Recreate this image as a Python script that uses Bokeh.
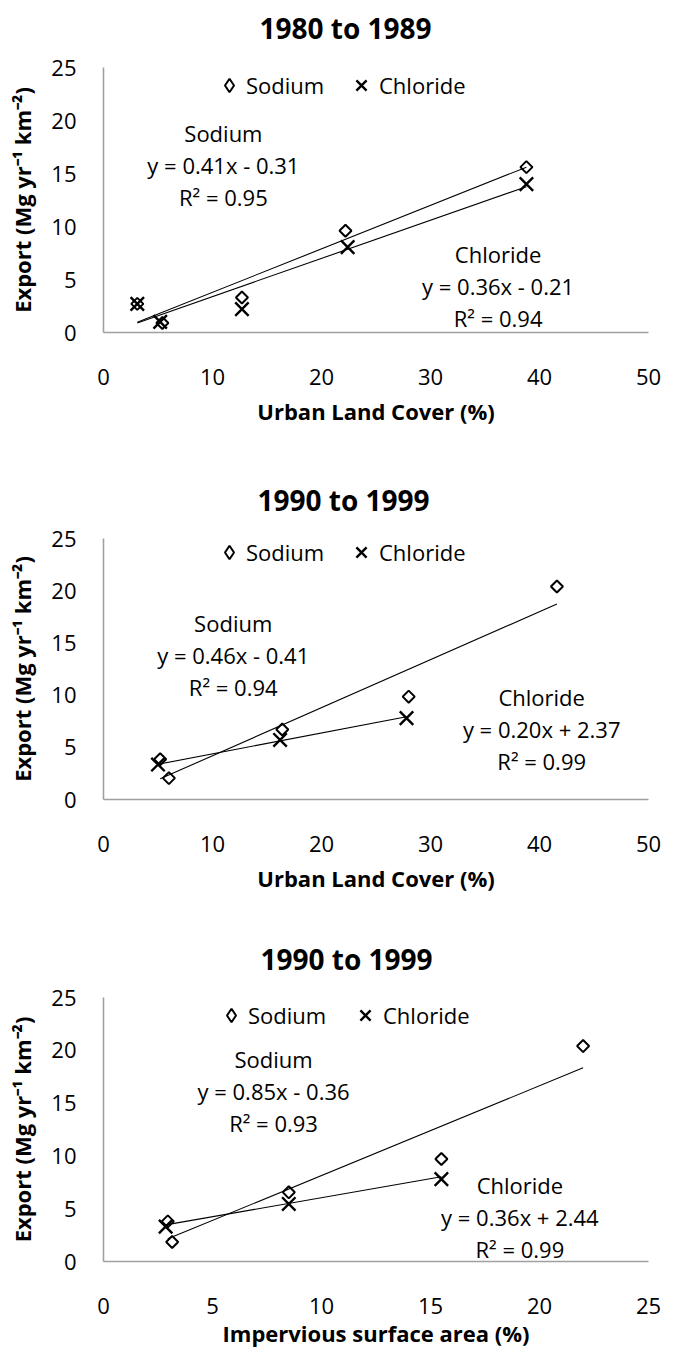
from bokeh.plotting import figure
from bokeh.layouts import column
from bokeh.models import Label, Range1d, FixedTicker, Legend, LegendItem, Title
from bokeh.embed import file_html
from bokeh.resources import INLINE
import numpy as np

FONT = "Open Sans"

# ---------------- data ----------------
titles = ["1980 to 1989", "1990 to 1999", "1990 to 1999"]
x_titles = ["Urban Land Cover (%)", "Urban Land Cover (%)", "Impervious surface area (%)"]
y_title = "Export (Mg yr\u207b\u00b9 km\u207b\u00b2)"

x_max = [50, 50, 25]
x_ticks = [[0, 10, 20, 30, 40, 50], [0, 10, 20, 30, 40, 50], [0, 5, 10, 15, 20, 25]]
y_ticks = [0, 5, 10, 15, 20, 25]

na_x = [[3.1, 5.4, 12.7, 22.2, 38.8], [5.2, 6.0, 16.4, 28.0, 41.6], [2.95, 3.15, 8.5, 15.5, 22.0]]
na_y = [[2.7, 0.9, 3.3, 9.6, 15.6], [3.85, 2.05, 6.7, 9.85, 20.4], [3.8, 1.85, 6.55, 9.7, 20.4]]
cl_x = [[3.1, 5.2, 12.7, 22.4, 38.8], [5.0, 16.2, 27.8], [2.85, 8.5, 15.5]]
cl_y = [[2.7, 1.0, 2.2, 8.05, 14.0], [3.35, 5.7, 7.8], [3.3, 5.45, 7.8]]

na_slope = [0.41, 0.46, 0.85]
na_icpt = [-0.31, -0.41, -0.36]
na_r2 = [0.95, 0.94, 0.93]
cl_slope = [0.36, 0.20, 0.36]
cl_icpt = [-0.21, 2.37, 2.44]
cl_r2 = [0.94, 0.99, 0.99]

# annotation anchor (data units): [x, y_top_line]
na_lab_pos = [(11.0, 18.8), (11.9, 16.95), (7.8, 19.2)]
cl_lab_pos = [(36.2, 7.4), (40.2, 9.85), (19.1, 7.2)]

# layout per panel (pixels)
panel_h = [440, 455, 458]
frame_left = [101, 101, 103]
frame_right = [27, 24, 13]
frame_top = [67, 98, 102]
frame_bottom = [108, 92, 92]
title_offset = [156, 154, 157]
title_standoff = [10, 40, 40]
title_spacer = ["12px", None, None]
xlab_standoff = [8, 8, 1]
leg_off = [18, 18, 18]                 # legend centre below frame top
leg_na_cx = [126, 126, 128]            # legend glyph positions from frame left
leg_cl_cx = [258, 258, 262]

AXIS_COLOR = "#a0a0a0"


def eq_text(m, b):
    sign = "-" if b < 0 else "+"
    return f"y = {m:.2f}x {sign} {abs(b):.2f}"


def make_legend(renderer, label, box, cx, frame_h, off, standoff):
    return Legend(items=[LegendItem(label=label, renderers=[renderer])],
                  orientation="horizontal",
                  location=(cx - box // 2, frame_h - off - box // 2),
                  border_line_color=None, background_fill_alpha=0,
                  inactive_fill_alpha=0, click_policy="none",
                  padding=0, margin=0, spacing=0, label_standoff=standoff,
                  glyph_width=box, glyph_height=box, label_height=box,
                  label_text_font=FONT, label_text_font_size="22px",
                  label_text_color="black", label_text_baseline="middle")


def make_panel(i):
    p = figure(width=675, height=panel_h[i], title=None,
               x_range=Range1d(0, x_max[i]), y_range=Range1d(0, 25),
               output_backend="svg", toolbar_location=None,
               min_border_left=frame_left[i], min_border_right=frame_right[i],
               min_border_top=frame_top[i], min_border_bottom=frame_bottom[i])
    p.background_fill_color = "white"
    p.border_fill_color = "white"
    p.outline_line_color = None
    p.xgrid.visible = False
    p.ygrid.visible = False
    frame_h = panel_h[i] - frame_top[i] - frame_bottom[i]

    # title (optionally lifted by an empty spacer title next to the frame)
    if title_spacer[i] is not None:
        p.add_layout(Title(text=" ", text_font_size=title_spacer[i], standoff=0), "above")
    p.add_layout(Title(text=titles[i], text_font=FONT, text_font_size="28px",
                       text_font_style="bold", text_color="black", align="left",
                       offset=title_offset[i], vertical_align="bottom",
                       standoff=title_standoff[i]), "above")

    for ax in (p.xaxis[0], p.yaxis[0]):
        ax.axis_line_color = AXIS_COLOR
        ax.axis_line_width = 1.6
        ax.major_tick_out = 0
        ax.major_tick_in = 0
        ax.minor_tick_out = 0
        ax.minor_tick_in = 0
        ax.major_label_text_font = FONT
        ax.major_label_text_font_size = "22px"
        ax.major_label_text_color = "black"
        ax.axis_label_text_font = FONT
        ax.axis_label_text_font_size = "22px"
        ax.axis_label_text_font_style = "bold"
        ax.axis_label_text_color = "black"

    p.xaxis[0].ticker = FixedTicker(ticks=x_ticks[i])
    p.yaxis[0].ticker = FixedTicker(ticks=y_ticks)
    p.xaxis[0].major_label_standoff = 36
    p.yaxis[0].major_label_standoff = 27
    p.xaxis[0].axis_label = x_titles[i]
    p.yaxis[0].axis_label = y_title
    p.xaxis[0].axis_label_standoff = xlab_standoff[i]
    p.yaxis[0].axis_label_standoff = 11

    # trend lines over each series' x range
    xs_na = np.array([min(na_x[i]), max(na_x[i])])
    xs_cl = np.array([min(cl_x[i]), max(cl_x[i])])
    p.line(xs_na, na_slope[i] * xs_na + na_icpt[i], line_color="black", line_width=1.1)
    p.line(xs_cl, cl_slope[i] * xs_cl + cl_icpt[i], line_color="black", line_width=1.1)

    p.scatter(na_x[i], na_y[i], marker="square", angle=np.pi / 4, size=8.5,
              fill_color=None, line_color="black", line_width=2)
    r_cl = p.scatter(cl_x[i], cl_y[i], marker="x", size=19,
                     line_color="black", line_width=2.4)
    # legend swatch for sodium (diamond); hidden renderer, shown only in legend
    r_na_leg = p.scatter(na_x[i], na_y[i], marker="diamond", fill_color=None,
                         line_color="black", line_width=2)
    r_na_leg.visible = False

    p.add_layout(make_legend(r_na_leg, "Sodium", 34, leg_na_cx[i], frame_h, leg_off[i], -2), "center")
    p.add_layout(make_legend(r_cl, "Chloride", 36, leg_cl_cx[i], frame_h, leg_off[i], -9), "center")

    # regression annotations
    for (lx, ly), name, m, b, r2 in ((na_lab_pos[i], "Sodium", na_slope[i], na_icpt[i], na_r2[i]),
                                     (cl_lab_pos[i], "Chloride", cl_slope[i], cl_icpt[i], cl_r2[i])):
        lines = [name, eq_text(m, b), f"R\u00b2 = {r2:.2f}"]
        for k, t in enumerate(lines):
            p.add_layout(Label(x=lx, y=ly, y_offset=-k * 32, text=t,
                               text_align="center", text_baseline="middle",
                               text_font=FONT, text_font_size="22px",
                               text_color="black"))
    return p


plots = [make_panel(i) for i in range(3)]
layout = column(*plots, spacing=0)
open("out.html", "w").write(file_html(layout, INLINE))
